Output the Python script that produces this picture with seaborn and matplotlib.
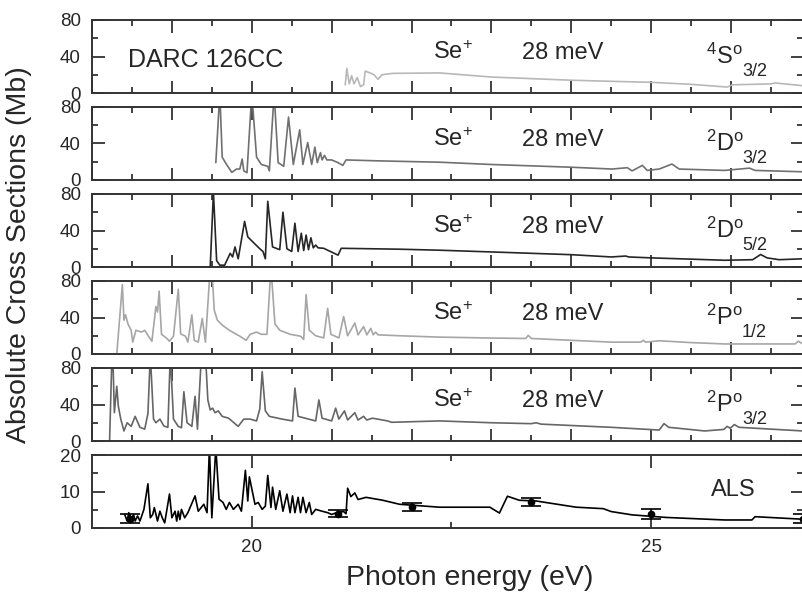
import matplotlib
matplotlib.use("Agg")
import matplotlib.pyplot as plt
import seaborn as sns
from matplotlib.ticker import MultipleLocator

# ---- data (photon energy in eV, cross section in Mb) ----
s4_e = [21.17, 21.19, 21.22, 21.25, 21.28, 21.32, 21.36, 21.40, 21.42, 21.48, 21.53, 21.58,
        21.63, 21.76, 22.35, 23.0, 24.0, 24.5, 25.0, 25.5, 25.95, 26.02, 26.5, 26.55, 26.9]
s4_v = [9, 27, 10, 19, 10, 17, 7, 9, 24, 22, 20, 15,
        20, 21.5, 22, 17.5, 14, 12.8, 11.7, 9.5, 6.5, 9, 10, 11, 8]

d3_e = [19.55, 19.60, 19.63, 19.68, 19.75, 19.81, 19.85, 19.88, 19.90, 19.94, 20.00, 20.06,
        20.12, 20.20, 20.22, 20.28, 20.33, 20.40, 20.46, 20.52, 20.60, 20.64, 20.70, 20.75,
        20.79, 20.82, 20.86, 20.88, 20.91, 20.94, 21.00, 21.08, 21.14, 21.18, 21.57, 22.35,
        23.0, 24.0, 24.51, 24.70, 24.76, 24.89, 24.95, 25.10, 25.26, 25.35, 25.92, 26.23,
        26.30, 26.9]
d3_v = [19, 95, 25, 17.6, 8.4, 12, 12, 23, 10, 8, 95, 25,
        17, 15, 10, 95, 19, 15, 69, 17, 55, 17, 41, 17,
        36, 19, 30, 22, 27, 22, 22, 19, 16, 22, 21, 19.5,
        17, 14, 12, 13.5, 10, 16, 10.5, 12, 17.5, 12, 10.5, 13,
        10.5, 9]

d5_e = [18.0, 19.48, 19.52, 19.56, 19.60, 19.66, 19.73, 19.76, 19.79, 19.83, 19.91, 19.95,
        20.03, 20.10, 20.14, 20.17, 20.20, 20.26, 20.35, 20.39, 20.44, 20.50, 20.54, 20.58,
        20.62, 20.65, 20.68, 20.71, 20.74, 20.77, 20.80, 20.83, 20.90, 21.08, 21.12, 21.85,
        22.35, 23.0, 24.0, 24.5, 24.68, 24.72, 25.0, 25.92, 26.27, 26.37, 26.45, 26.6, 26.9]
d5_v = [0, 0, 82, 7, 2, 2, 15, 11, 22, 9, 50, 33,
        26, 20, 17, 9, 72, 22, 19, 60, 20, 17, 48, 17,
        37, 18, 35, 19, 32, 21, 24, 21, 20.5, 13, 20.5, 19.5,
        18.4, 16.5, 13.5, 11, 12, 11, 10, 7.4, 8, 13.7, 10, 8, 9]

p1_e = [18.31, 18.38, 18.40, 18.42, 18.45, 18.49, 18.51, 18.55, 18.62, 18.66, 18.71, 18.75,
        18.80, 18.82, 18.84, 18.87, 18.93, 18.97, 19.02, 19.08, 19.11, 19.17, 19.20, 19.25,
        19.28, 19.33, 19.38, 19.42, 19.48, 19.50, 19.53, 19.57, 19.64, 19.72, 19.85, 19.93,
        19.98, 20.06, 20.12, 20.19, 20.24, 20.29, 20.35, 20.48, 20.61, 20.65, 20.68, 20.72,
        20.80, 20.90, 20.95, 20.99, 21.09, 21.15, 21.20, 21.29, 21.33, 21.40, 21.44, 21.49,
        21.52, 21.55, 21.58, 21.85, 22.35, 23.0, 23.43, 23.46, 23.5, 24.0, 24.5, 24.87,
        24.90, 24.93, 25.1, 25.5, 25.92, 26.8, 26.84, 26.9]
p1_v = [0, 76, 37, 43, 33, 26, 13, 26, 24, 26, 19, 14,
        52, 46, 69, 21.6, 17.6, 14, 19.5, 71, 22, 19.5, 13, 43,
        15, 13, 39, 13, 95, 95, 48, 37, 31, 26, 19.5, 15,
        21.6, 24, 21.6, 21.6, 95, 33, 26, 21.6, 19.5, 16, 65, 26,
        20, 17.6, 50, 21.6, 17.6, 41, 20, 34, 21, 30, 21, 28,
        21, 24, 21, 20, 18.5, 17.5, 17, 20.4, 17, 15, 13, 13,
        15, 13, 14.5, 12.5, 11, 11, 14, 11]

p3_e = [18.22, 18.25, 18.26, 18.28, 18.31, 18.33, 18.36, 18.40, 18.44, 18.49, 18.54, 18.60,
        18.66, 18.70, 18.73, 18.77, 18.80, 18.85, 18.90, 18.95, 18.98, 19.02, 19.08, 19.12,
        19.15, 19.19, 19.25, 19.29, 19.32, 19.37, 19.42, 19.45, 19.48, 19.51, 19.54, 19.58,
        19.63, 19.71, 19.83, 19.90, 19.98, 20.06, 20.10, 20.13, 20.17, 20.22, 20.38, 20.51,
        20.54, 20.58, 20.80, 20.84, 20.88, 21.00, 21.05, 21.09, 21.16, 21.20, 21.29, 21.33,
        21.40, 21.44, 21.51, 21.70, 21.75, 22.35, 23.0, 23.5, 23.56, 23.62, 24.5, 25.1,
        25.16, 25.22, 25.67, 25.91, 25.95, 25.99, 26.04, 26.10, 26.5, 26.9]
p3_v = [0, 95, 95, 31, 60, 38, 24, 11, 20, 16, 27, 15,
        13, 30, 95, 24, 20, 24, 16.4, 15, 95, 24, 16, 14.5,
        54, 20, 16, 49, 13, 95, 95, 45, 34, 36, 31, 33,
        27, 25, 16, 24, 24, 22, 35, 76, 33, 27, 24, 22,
        58, 27, 22, 45, 25, 22, 36, 24, 33, 23, 31, 23,
        27, 23, 25, 22, 20.5, 22, 20, 19, 20, 18.5, 15, 12,
        19, 15, 11, 12.7, 16, 14, 18, 15, 13, 11]

als_e = [18.41, 18.44, 18.46, 18.49, 18.52, 18.54, 18.57, 18.60, 18.65, 18.70, 18.73, 18.76,
         18.78, 18.82, 18.85, 18.88, 18.91, 18.97, 19.00, 19.04, 19.06, 19.08, 19.10, 19.12,
         19.16, 19.20, 19.29, 19.33, 19.40, 19.44, 19.47, 19.50, 19.55, 19.59, 19.64, 19.68,
         19.72, 19.77, 19.83, 19.87, 19.92, 19.95, 19.97, 20.04, 20.08, 20.13, 20.17, 20.20,
         20.24, 20.26, 20.30, 20.35, 20.39, 20.44, 20.48, 20.51, 20.54, 20.58, 20.61, 20.64,
         20.68, 20.72, 20.75, 20.80, 20.88, 20.95, 21.00, 21.06, 21.15, 21.18, 21.20, 21.24,
         21.29, 21.33, 21.43, 21.64, 21.85, 22.35, 22.98, 23.10, 23.20, 23.35, 23.56, 24.06,
         24.40, 24.50, 24.76, 25.18, 25.92, 26.26, 26.30, 26.9]
als_v = [3.7, 1.9, 4.2, 2.3, 3.7, 1.9, 3.3, 1.9, 5.1, 12.1, 2.8, 3.7,
         5.6, 1.9, 4.6, 2.8, 1.4, 9.3, 2.8, 4.6, 1.9, 4.6, 2.3, 5.1,
         2.8, 4.2, 8.8, 4.6, 6.5, 4.2, 22, 2.8, 22, 7.9, 7.0, 5.1,
         7.0, 5.1, 6.5, 4.6, 15.8, 7.4, 14, 6.5, 7.0, 5.1, 6.0, 14.4,
         5.6, 11.2, 5.1, 10.2, 4.6, 9.3, 4.2, 8.8, 4.2, 8.4, 4.2, 8.4,
         4.2, 7.0, 3.7, 5.1, 4.6, 4.2, 3.7, 4.2, 4.5, 3.9, 10.9, 8.6,
         9.6, 7.8, 8.4, 7.6, 6.5, 5.7, 5.7, 4.1, 8.7, 7.6, 7.4, 5.7,
         5.3, 4.5, 3.6, 2.9, 2.2, 2.2, 3.1, 2.4]

als_bar_e = [18.47, 21.08, 22.0, 23.5, 25.0, 26.9]
als_bar_v = [2.6, 3.9, 5.7, 7.1, 3.8, 2.6]
als_bar_err = [1.3, 0.9, 1.1, 1.1, 1.3, 1.2]

state_main = [r"$^{4}$S$^{\rm o}$", r"$^{2}$D$^{\rm o}$", r"$^{2}$D$^{\rm o}$",
              r"$^{2}$P$^{\rm o}$", r"$^{2}$P$^{\rm o}$"]
state_sub = ["3/2", "3/2", "5/2", "1/2", "3/2"]

sns.set_style("ticks")
plt.rcParams["font.family"] = ["Liberation Sans", "DejaVu Sans"]
plt.rcParams["mathtext.fontset"] = "custom"
plt.rcParams["mathtext.rm"] = "Liberation Sans"
plt.rcParams["mathtext.it"] = "Liberation Sans:italic"

fig = plt.figure(figsize=(8.03, 5.93), dpi=100)
W, H = 803.0, 593.0
tops = [20, 107, 194, 281, 368, 455]
axes = [fig.add_axes([92 / W, 1 - (t + 73) / H, 711 / W, 73 / H]) for t in tops]

series = [(s4_e, s4_v, "#b8b8b8"), (d3_e, d3_v, "#707070"), (d5_e, d5_v, "#262626"),
          (p1_e, p1_v, "#a6a6a6"), (p3_e, p3_v, "#666666"), (als_e, als_v, "#000000")]

for i, (ax, (e, v, c)) in enumerate(zip(axes, series)):
    sns.lineplot(x=e, y=v, ax=ax, color=c, lw=1.2, estimator=None, sort=False)
    ax.set_xlim(18.0, 26.9)
    for sp in ax.spines.values():
        sp.set_linewidth(1.4)
        sp.set_color("#333333")
    ax.tick_params(which="both", direction="in", top=True, right=True,
                   labelsize=13.5, width=1.3, color="#333333", pad=8)
    ax.tick_params(which="major", length=9)
    ax.tick_params(which="minor", length=4.5)
    ax.set_ylabel("")
    if i < 5:
        ax.set_ylim(0, 80)
        ax.yaxis.set_major_locator(MultipleLocator(40))
        ax.yaxis.set_minor_locator(MultipleLocator(20))
        ax.xaxis.set_major_locator(MultipleLocator(1))
        ax.xaxis.set_minor_locator(MultipleLocator(0.5))
        ax.tick_params(labelbottom=False)
        ax.text(0.479, 0.55, r"Se$^{+}$", transform=ax.transAxes, fontsize=17, va="center")
        ax.text(0.605, 0.55, "28 meV", transform=ax.transAxes, fontsize=17, va="center")
        ax.text(0.863, 0.50, state_main[i], transform=ax.transAxes, fontsize=17, va="center")
        ax.text(0.914, 0.30, state_sub[i], transform=ax.transAxes, fontsize=13, va="center")
    else:
        ax.set_ylim(0, 20)
        ax.yaxis.set_major_locator(MultipleLocator(10))
        ax.yaxis.set_minor_locator(MultipleLocator(5))
        ax.xaxis.set_major_locator(MultipleLocator(5))
        ax.xaxis.set_minor_locator(MultipleLocator(2.5))
        ax.errorbar(als_bar_e, als_bar_v, yerr=als_bar_err, fmt="o", color="black",
                    ms=4.5, capsize=7, elinewidth=1.2, capthick=1.2)
        ax.text(0.87, 0.52, "ALS", transform=ax.transAxes, fontsize=17, va="center")

axes[0].text(0.05, 0.45, "DARC 126CC", transform=axes[0].transAxes, fontsize=18, va="center")

fig.text(0.024, 0.57, "Absolute Cross Sections (Mb)", rotation=90, fontsize=20.5,
         ha="center", va="center")
fig.text(470 / W, 1 - 578 / H, "Photon energy (eV)", fontsize=20.5, ha="center", va="center")

fig.savefig("out.png", dpi=100)
